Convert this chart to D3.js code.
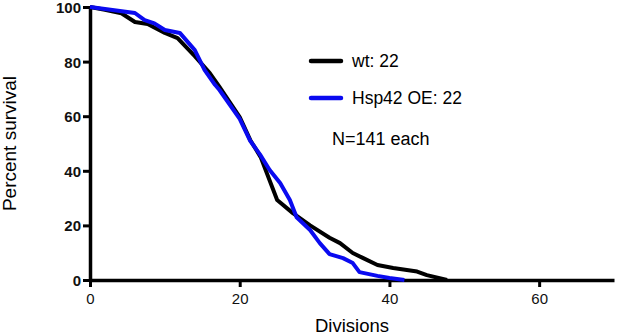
<!DOCTYPE html>
<html>
<head>
<meta charset="utf-8">
<script src="https://cdn.jsdelivr.net/npm/d3@7"></script>
<style>
  body { margin: 0; background: #fff; }
  svg { font-family: "Liberation Sans", Arial, sans-serif; }
</style>
</head>
<body>
<div id="chart"></div>
<script>
// survival curves, divisions vs percent survival
const wtDiv = [0, 2, 4.2, 6, 7.7, 10, 11.7, 14, 16, 17.3, 20, 21.4, 22.8, 25, 27.1, 29.4, 32, 33.4, 35.1, 36.5, 38.4, 40.5, 43.7, 45, 47.7];
const wtPct = [100, 99, 97.7, 94.5, 93.8, 90.5, 88.6, 82, 75.8, 70.7, 59.7, 51.3, 45, 29.3, 24.5, 20, 15.5, 13.5, 9.9, 8, 5.5, 4.4, 3.1, 1.8, 0];

const oeDiv = [0, 6, 7.3, 8.6, 10, 12, 14, 15.3, 16.7, 17.3, 20, 21.4, 22.7, 24, 25.4, 26.7, 27.6, 29.4, 30.7, 32, 33.8, 35.1, 36, 38.4, 40, 42];
const oePct = [100, 97.8, 95.2, 94, 91.6, 90.5, 84.2, 77, 71.5, 69.6, 59, 51, 46, 40.3, 35.5, 29.3, 23, 18.3, 13.5, 9.5, 8, 6.2, 2.9, 1.5, 0.7, 0];

const xTicks = [0, 20, 40, 60];
const yTicks = [0, 20, 40, 60, 80, 100];
const legendLabels = ["wt: 22", "Hsp42 OE: 22"];
const noteText = "N=141 each";

const W = 617, H = 336;
const margin = {top: 7, right: 3, bottom: 56, left: 90};

const svg = d3.select("#chart").append("svg")
    .attr("width", W)
    .attr("height", H);

const x = d3.scaleLinear().domain([0, 70]).range([margin.left, W - margin.right]);
const y = d3.scaleLinear().domain([0, 100]).range([H - margin.bottom, margin.top]);

// axes
const xAxis = svg.append("g")
    .attr("transform", `translate(0,${y(0)})`)
    .call(d3.axisBottom(x).tickValues(xTicks).tickSize(7).tickPadding(6).tickSizeOuter(0));
xAxis.select(".domain").attr("stroke-width", 3.5);
xAxis.selectAll(".tick line").attr("stroke-width", 3);
xAxis.selectAll(".tick text").style("font-size", "15px").attr("fill", "#111");

const yAxis = svg.append("g")
    .attr("transform", `translate(${x(0)},0)`)
    .call(d3.axisLeft(y).tickValues(yTicks).tickSize(7).tickPadding(2).tickSizeOuter(0));
yAxis.select(".domain").attr("stroke-width", 3.5);
yAxis.selectAll(".tick line").attr("stroke-width", 3);
yAxis.selectAll(".tick text")
    .style("font-size", "15px")
    .style("font-weight", "bold")
    .attr("fill", "#111")
    .attr("dy", "0.36em");

// axis titles
svg.append("text")
    .attr("x", (x(0) + x(70)) / 2)
    .attr("y", 332)
    .attr("text-anchor", "middle")
    .style("font-size", "18.5px")
    .text("Divisions");

svg.append("text")
    .attr("transform", `translate(16,${(y(0) + y(100)) / 2}) rotate(-90)`)
    .attr("text-anchor", "middle")
    .style("font-size", "19px")
    .text("Percent survival");

// curves
const line = d3.line()
    .x(d => x(d[0]))
    .y(d => y(d[1]));

const series = [
    {pts: wtDiv.map((d, i) => [d, wtPct[i]]), color: "#000000"},
    {pts: oeDiv.map((d, i) => [d, oePct[i]]), color: "#0a0af0"}
];

svg.selectAll(".curve")
    .data(series)
    .enter()
    .append("path")
    .attr("class", "curve")
    .attr("d", d => line(d.pts))
    .attr("fill", "none")
    .attr("stroke", d => d.color)
    .attr("stroke-width", 4)
    .attr("stroke-linejoin", "round");

// legend
const leg = svg.append("g").attr("class", "legend");
legendLabels.forEach(function(lab, i) {
    let ly = 61 + i * 37;
    leg.append("line")
        .attr("x1", 311).attr("x2", 341)
        .attr("y1", ly).attr("y2", ly)
        .attr("stroke", series[i].color)
        .attr("stroke-width", 4.5)
        .attr("stroke-linecap", "round");
    leg.append("text")
        .attr("x", 352)
        .attr("y", ly + 6)
        .style("font-size", "17.5px")
        .text(lab);
});

svg.append("text")
    .attr("x", 332)
    .attr("y", 145)
    .style("font-size", "18px")
    .text(noteText);
</script>
</body>
</html>
